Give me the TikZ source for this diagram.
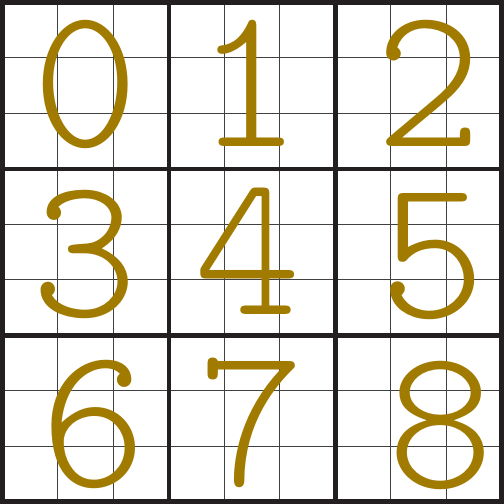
\documentclass[tikz,border=0pt]{standalone}
\usepackage{fontspec}
\usepackage{tikz}
\usetikzlibrary{positioning}
\newfontfamily\digitfont{lmmonolt10-regular.otf}
\definecolor{digitgold}{RGB}{161,123,0}
\definecolor{boxdark}{RGB}{35,31,32}

\begin{document}
\begin{tikzpicture}[
            x = 1pt, y = -1pt, % pixel coordinates, y downwards
            line cap = rect
        ]

        \tikzstyle{digit}=[
            text = digitgold,
            font = \digitfont\fontsize{203}{203}\selectfont,
            inner sep = 0pt,
            anchor = base
        ]
        \tikzstyle{cellline}=[draw = black!75, line width = 1.1pt]
        \tikzstyle{boxline}=[draw = boxdark, line width = 4.6pt]

        \useasboundingbox (0,0) rectangle (504,504);
        \fill[white] (0,0) rectangle (504,504);

	% thin lines
        \draw[cellline] (57.8,2.3) -- (57.8,501.7);
        \draw[cellline] (113.3,2.3) -- (113.3,501.7);
        \draw[cellline] (224.2,2.3) -- (224.2,501.7);
        \draw[cellline] (279.7,2.3) -- (279.7,501.7);
        \draw[cellline] (390.7,2.3) -- (390.7,501.7);
        \draw[cellline] (446.2,2.3) -- (446.2,501.7);
        \draw[cellline] (2.3,57.8) -- (501.7,57.8);
        \draw[cellline] (2.3,113.3) -- (501.7,113.3);
        \draw[cellline] (2.3,224.2) -- (501.7,224.2);
        \draw[cellline] (2.3,279.7) -- (501.7,279.7);
        \draw[cellline] (2.3,390.7) -- (501.7,390.7);
        \draw[cellline] (2.3,446.2) -- (501.7,446.2);

	% box lines
        \draw[boxline] (168.8,2.3) -- (168.8,501.7);
        \draw[boxline] (335.2,2.3) -- (335.2,501.7);
        \draw[boxline] (2.3,168.8) -- (501.7,168.8);
        \draw[boxline] (2.3,335.2) -- (501.7,335.2);
        \draw[boxline] (2.3,2.3) rectangle (501.7,501.7);

	% digits
        \node[digit] (D0) at (86,146) {0};
        \node[digit] (D1) at (249,146) {1};
        \node[digit] (D2) at (429,146) {2};
        \node[digit] (D3) at (85,316) {3};
        \node[digit] (D4) at (248,314) {4};
        \node[digit] (D5) at (433,317) {5};
        \node[digit] (D6) at (94,486) {6};
        \node[digit] (D7) at (252,485) {7};
        \node[digit] (D8) at (441,487) {8};

\end{tikzpicture}
\end{document}
